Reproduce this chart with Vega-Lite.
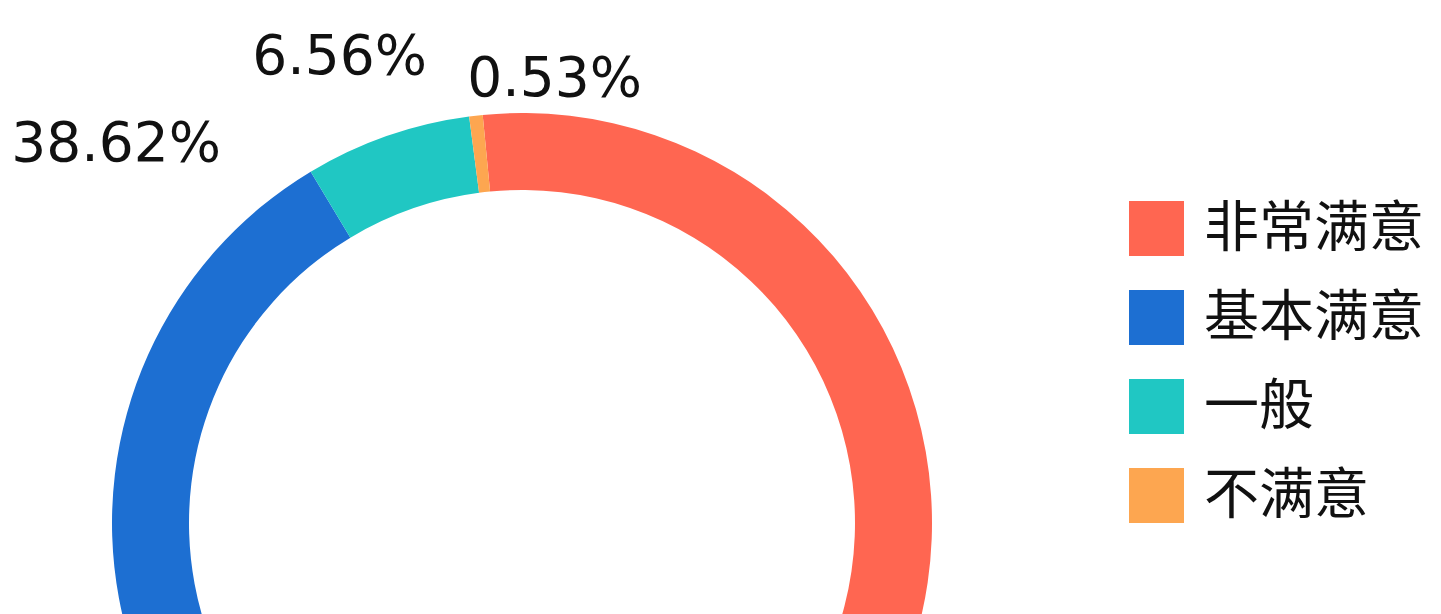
{
  "$schema": "https://vega.github.io/schema/vega-lite/v6.json",
  "width": 1044,
  "height": 1046,
  "autosize": "none",
  "padding": {"left": 0, "top": 0, "right": 397, "bottom": -432},
  "background": "white",
  "config": {"view": {"stroke": null}, "font": "DejaVu Sans"},
  "data": {
    "values": [
      {"category": "非常满意", "value": 54.29, "label": "54.29%"},
      {"category": "基本满意", "value": 38.62, "label": "38.62%"},
      {"category": "一般", "value": 6.56, "label": "6.56%"},
      {"category": "不满意", "value": 0.53, "label": "0.53%"}
    ]
  },
  "layer": [
    {
      "mark": {"type": "arc", "innerRadius": 333, "outerRadius": 410, "stroke": null},
      "encoding": {
        "theta": {"field": "value", "type": "quantitative", "stack": true, "scale": {"range": [-0.096, 6.1872]}},
        "order": {"field": "value", "sort": "descending"},
        "color": {
          "field": "category",
          "type": "nominal",
          "sort": ["非常满意", "基本满意", "一般", "不满意"],
          "scale": {"domain": ["非常满意", "基本满意", "一般", "不满意"], "range": ["#FF6651", "#1D6FD2", "#20C7C3", "#FDA650"]},
          "legend": {
            "orient": "none",
            "legendX": 1129,
            "legendY": 201,
            "title": null,
            "symbolType": "square",
            "symbolSize": 3025,
            "symbolStrokeWidth": 0,
            "labelFont": "Noto Sans CJK SC",
            "labelFontSize": 55,
            "labelColor": "#111111",
            "labelOffset": 20,
            "rowPadding": 33,
            "labelLimit": 400
          }
        }
      }
    },
    {
      "transform": [{"filter": "datum.category !== '非常满意'"}],
      "mark": {"type": "text", "font": "DejaVu Sans", "fontSize": 55, "align": "center", "baseline": "middle", "color": "#111111"},
      "encoding": {
        "theta": {"field": "category", "type": "nominal", "sort": ["基本满意", "一般", "不满意"], "scale": {"type": "band", "range": [-1.0437, 0.2967], "paddingInner": 0, "paddingOuter": 0}},
        "radius": {"field": "category", "type": "nominal", "sort": ["基本满意", "一般", "不满意"], "scale": {"type": "band", "range": [582.5, 417.5], "paddingInner": 0, "paddingOuter": 0}},
        "text": {"field": "label"}
      }
    }
  ],
  "resolve": {"scale": {"theta": "independent", "radius": "independent"}}
}
